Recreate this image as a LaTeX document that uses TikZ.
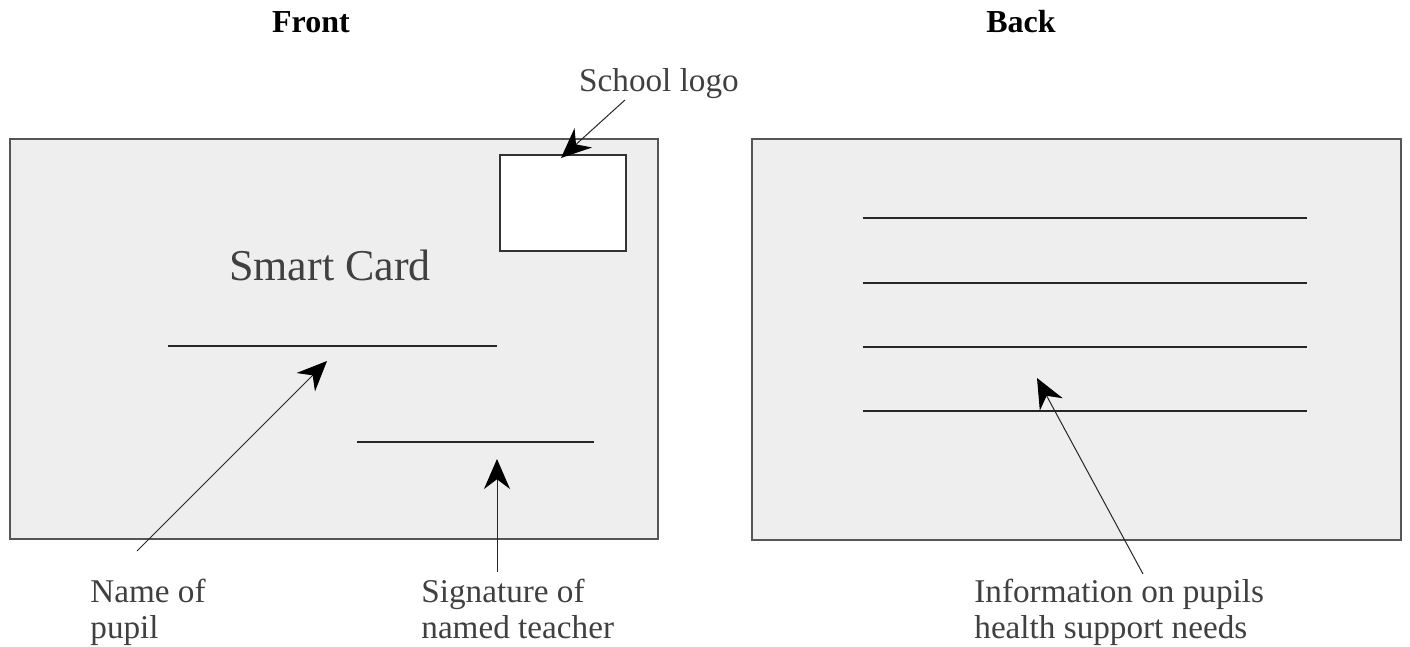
\documentclass[tikz,border=0pt]{standalone}
\usepackage{fontspec}
\setmainfont{Liberation Serif}
\usetikzlibrary{arrows.meta}
\definecolor{txt}{HTML}{404040}
\definecolor{cardfill}{HTML}{EEEEEE}
\definecolor{cardedge}{HTML}{555555}
\tikzset{
  card/.style={draw=cardedge, fill=cardfill, line width=0.6pt},
  logobox/.style={draw=black!80, fill=white, line width=0.6pt},
  rule/.style={draw=black!85, line width=0.6pt},
  pointer/.style={draw=black!85, line width=0.5pt, -{Stealth[length=15pt,width=13pt,color=black]}},
  label/.style={text=txt, font=\fontsize{16.6}{18}\selectfont, align=left, anchor=north west, inner sep=0pt},
  title/.style={font=\bfseries\fontsize{16}{19}\selectfont, inner sep=0pt}
}
\begin{document}
\begin{tikzpicture}[x=0.5pt, y=-0.5pt]
\useasboundingbox (0,0) rectangle (1410,647);
% titles
\node[title] (tfront) at (311,22) {Front};
\node[title] (tback) at (1021,22) {Back};
% front card
\path[card] (10,139) rectangle (658,539);
\node[logobox, minimum width=63pt, minimum height=48pt, inner sep=0pt] (logo) at (563,203) {};
\node[text=txt, font=\fontsize{22}{26}\selectfont, inner sep=0pt] (sc) at (330,265) {Smart Card};
\coordinate (n1) at (168,346); \coordinate (n2) at (497,346);
\draw[rule] (n1) -- (n2);
\coordinate (s1) at (357,442); \coordinate (s2) at (594,442);
\draw[rule] (s1) -- (s2);
% back card
\path[card] (752,139) rectangle (1401,540);
\foreach \y/\n in {218/a,283/b,347/c,411/d}{
  \coordinate (l\n1) at (863,\y); \coordinate (l\n2) at (1307,\y);
  \draw[rule] (l\n1) -- (l\n2);
}
% labels
\node[text=txt, font=\fontsize{16.6}{19}\selectfont, inner sep=0pt] (logolbl) at (659,84) {School logo};
\node[label] (namelbl) at (90,579) {Name of\\pupil};
\node[label] (siglbl) at (421,579) {Signature of\\named teacher};
\node[label] (infolbl) at (974,579) {Information on pupils\\health support needs};
% pointer anchors
\coordinate (logotip) at (561,158);
\coordinate (logotail) at (625,100);
\coordinate (nametail) at (137,551);
\coordinate (nametip) at (327,361);
\coordinate (sigtail) at (497,572);
\coordinate (sigtip) at (497,459);
\coordinate (infotail) at (1143,574);
\coordinate (infotip) at (1037,378);
\draw[pointer] (logotail) -- (logotip);
\draw[pointer] (nametail) -- (nametip);
\draw[pointer] (sigtail) -- (sigtip);
\draw[pointer] (infotail) -- (infotip);
\end{tikzpicture}
\end{document}
